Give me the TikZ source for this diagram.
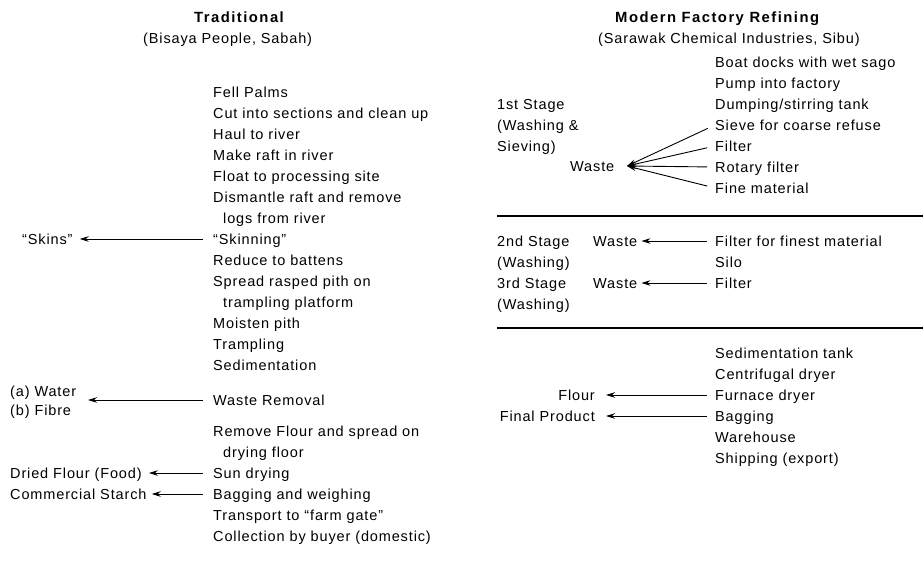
\documentclass[tikz,border=0pt]{standalone}
\usepackage{fontspec}
\setmainfont{Liberation Sans}[LetterSpace=6]
\usetikzlibrary{arrows.meta}
\begin{document}
\begin{tikzpicture}[x=1pt,y=-1pt,
  t/.style={anchor=west,inner sep=0pt,text height=10pt,text depth=0pt,font=\fontsize{14.5}{17}\selectfont},
  tr/.style={t,anchor=east},
  hd/.style={t,font=\fontsize{14.8}{17}\selectfont\bfseries\addfontfeature{LetterSpace=10}},
  arr/.style={line width=0.9pt,-{Stealth[length=9pt,width=5.5pt]}},
  rule/.style={line width=1.2pt}]
\useasboundingbox (0,0) rectangle (923,560);
% ---------------- Traditional ----------------
\node[hd] (trad) at (194,17) {Traditional};
\node[t] (bis) at (143,38) {(Bisaya People, Sabah)};
\node[t] (l0) at (213,92) {Fell Palms};
\node[t] (l1) at (213,113) {Cut into sections and clean up};
\node[t] (l2) at (213,134) {Haul to river};
\node[t] (l3) at (213,155) {Make raft in river};
\node[t] (l4) at (213,176) {Float to processing site};
\node[t] (l5) at (213,197) {Dismantle raft and remove};
\node[t] (l6) at (223,218) {logs from river};
\node[t] (l7) at (213,239) {“Skinning”};
\node[t] (l8) at (213,260) {Reduce to battens};
\node[t] (l9) at (213,281) {Spread rasped pith on};
\node[t] (l10) at (223,302) {trampling platform};
\node[t] (l11) at (213,323) {Moisten pith};
\node[t] (l12) at (213,344) {Trampling};
\node[t] (l13) at (213,365) {Sedimentation};
\node[t] (l14) at (213,400) {Waste Removal};
\node[t] (l15) at (213,431) {Remove Flour and spread on};
\node[t] (l16) at (223,452) {drying floor};
\node[t] (l17) at (213,473) {Sun drying};
\node[t] (l18) at (213,494) {Bagging and weighing};
\node[t] (l19) at (213,515) {Transport to “farm gate”};
\node[t] (l20) at (213,536) {Collection by buyer (domestic)};
% outputs
\node[t] (skins) at (22,239) {“Skins”};
\node[t] (wa) at (10,391) {(a) Water};
\node[t] (fb) at (10,410) {(b) Fibre};
\coordinate (watip) at (88,400);
\node[t] (dried) at (10,473) {Dried Flour (Food)};
\node[t] (comm) at (10,494) {Commercial Starch};
\draw[arr,shorten <=10pt,shorten >=7pt] (l7.west) -- (skins.east);
\draw[arr,shorten <=10pt] (l14.west) -- (watip);
\draw[arr,shorten <=10pt,shorten >=7pt] (l17.west) -- (dried.east);
\draw[arr,shorten <=10pt,shorten >=5pt] (l18.west) -- (comm.east);
% ---------------- Modern ----------------
\node[hd] (mod) at (615,17) {Modern Factory Refining};
\node[t] (sar) at (598,38) {(Sarawak Chemical Industries, Sibu)};
\node[t] (r0) at (715,62) {Boat docks with wet sago};
\node[t] (r1) at (715,83) {Pump into factory};
\node[t] (r2) at (715,104) {Dumping/stirring tank};
\node[t] (r3) at (715,125) {Sieve for coarse refuse};
\node[t] (r4) at (715,146) {Filter};
\node[t] (r5) at (715,167) {Rotary filter};
\node[t] (r6) at (715,188) {Fine material};
\node[t] (s1a) at (497,104) {1st Stage};
\node[t] (s1b) at (497,125) {(Washing \&};
\node[t] (s1c) at (497,146) {Sieving)};
\node[t] (w1) at (570,166) {Waste};
\coordinate (w1tip) at (627,166);
\foreach \n in {r3,r4,r5,r6}
  \draw[arr,shorten <=8pt] (\n.west) -- (w1tip);
\coordinate (ruleAa) at (497,216);
\coordinate (ruleAb) at (923,216);
\draw[rule] (ruleAa) -- (ruleAb);
\node[t] (r7) at (715,241) {Filter for finest material};
\node[t] (r8) at (715,262) {Silo};
\node[t] (r9) at (715,283) {Filter};
\node[t] (s2a) at (497,241) {2nd Stage};
\node[t] (s2b) at (497,262) {(Washing)};
\node[t] (s3a) at (497,283) {3rd Stage};
\node[t] (s3b) at (497,304) {(Washing)};
\node[t] (w2) at (593,241) {Waste};
\node[t] (w3) at (593,283) {Waste};
\draw[arr,shorten <=8pt,shorten >=4pt] (r7.west) -- (w2.east);
\draw[arr,shorten <=8pt,shorten >=4pt] (r9.west) -- (w3.east);
\coordinate (ruleBa) at (497,328);
\coordinate (ruleBb) at (923,328);
\draw[rule] (ruleBa) -- (ruleBb);
\node[t] (r10) at (715,353) {Sedimentation tank};
\node[t] (r11) at (715,374) {Centrifugal dryer};
\node[t] (r12) at (715,395) {Furnace dryer};
\node[t] (r13) at (715,416) {Bagging};
\node[t] (r14) at (715,437) {Warehouse};
\node[t] (r15) at (715,458) {Shipping (export)};
\node[tr] (flour) at (595,395) {Flour};
\node[tr] (final) at (595,416) {Final Product};
\draw[arr,shorten <=8pt,shorten >=11pt] (r12.west) -- (flour.east);
\draw[arr,shorten <=8pt,shorten >=11pt] (r13.west) -- (final.east);
\end{tikzpicture}
\end{document}
